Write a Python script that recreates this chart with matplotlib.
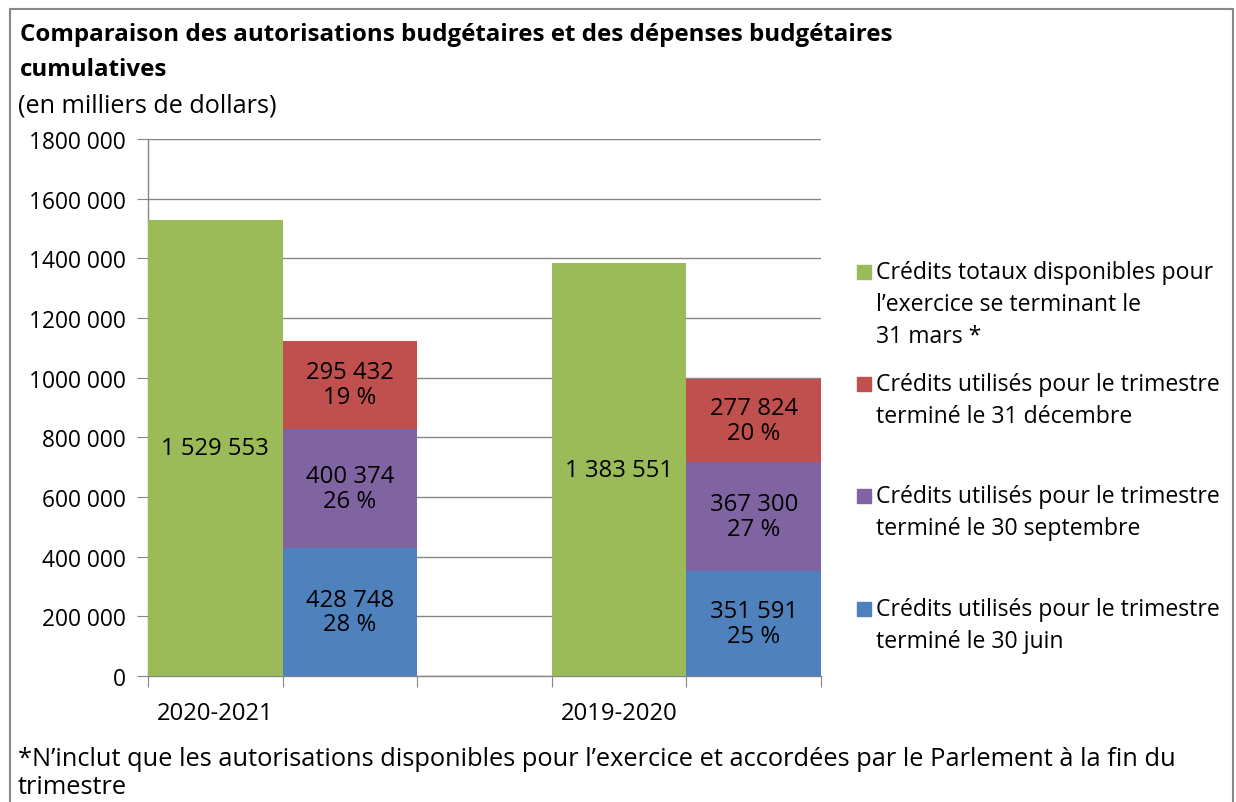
import matplotlib.pyplot as plt
from matplotlib.patches import Rectangle
from matplotlib.ticker import FuncFormatter

# data (milliers de dollars)
years = ['2020-2021', '2019-2020']
totals = [1529553, 1383551]
juin = [428748, 351591]
septembre = [400374, 367300]
decembre = [295432, 277824]
pct_juin = [28, 25]
pct_sept = [26, 27]
pct_dec = [19, 20]

legend_lines = [
    ['Crédits totaux disponibles pour', 'l\u2019exercice se terminant le', '31 mars *'],
    ['Crédits utilisés pour le trimestre', 'terminé le 31 décembre'],
    ['Crédits utilisés pour le trimestre', 'terminé le 30 septembre'],
    ['Crédits utilisés pour le trimestre', 'terminé le 30 juin'],
]
title_lines = ['Comparaison des autorisations budgétaires et des dépenses budgétaires',
               'cumulatives']
subtitle = '(en milliers de dollars)'
footnote = ['*N\u2019inclut que les autorisations disponibles pour l\u2019exercice et accordées par le Parlement à la fin du',
            'trimestre']

GREEN, RED, PURPLE, BLUE = '#9BBB59', '#C0504D', '#8064A2', '#4F81BD'
GRID = '#868686'

plt.rcParams['font.family'] = ['Open Sans', 'DejaVu Sans']

W, H = 1236, 803
fig = plt.figure(figsize=(W / 100, H / 100), dpi=100)

def fx(px):
    return px / W

def fy(py):
    return 1 - py / H

ax = fig.add_axes([fx(148), fy(677), fx(821 - 148), (677 - 140) / H])

def fmt(v):
    return f'{v:,}'.replace(',', ' ')

x_tot = [0.5, 3.5]
x_stk = [1.5, 4.5]
ax.bar(x_tot, totals, width=1, color=GREEN, zorder=3)
ax.bar(x_stk, juin, width=1, color=BLUE, zorder=3)
bottom2 = [a for a in juin]
ax.bar(x_stk, septembre, width=1, bottom=bottom2, color=PURPLE, zorder=3)
bottom3 = [a + b for a, b in zip(juin, septembre)]
ax.bar(x_stk, decembre, width=1, bottom=bottom3, color=RED, zorder=3)

# labels
for i in range(2):
    ax.text(x_tot[i], totals[i] / 2, fmt(totals[i]), ha='center', va='center',
            fontsize=17.2, zorder=4)
    segs = [(0, juin[i], pct_juin[i]),
            (juin[i], septembre[i], pct_sept[i]),
            (bottom3[i], decembre[i], pct_dec[i])]
    for b, v, p in segs:
        ax.text(x_stk[i], b + v / 2, f'{fmt(v)}\n{p} %', ha='center', va='center',
                fontsize=17.2, linespacing=1.05, zorder=4)

ax.set_xlim(0, 5)
ax.set_ylim(0, 1800000)
ax.set_yticks(range(0, 1800001, 200000))
ax.yaxis.set_major_formatter(FuncFormatter(lambda v, p: '0' if v == 0 else f'{int(v) // 1000} 000'))
ax.grid(axis='y', color=GRID, linewidth=1, zorder=0)
ax.set_xticks([0, 1, 2, 3, 4, 5])
ax.set_xticklabels([])
ax.set_xticks(x_tot, minor=True)
ax.set_xticklabels(years, minor=True)
ax.tick_params(axis='x', which='minor', length=0, pad=18, labelsize=17.2)
ax.tick_params(axis='x', which='major', length=8, color=GRID, direction='out')
ax.tick_params(axis='y', length=8, color=GRID, labelsize=16.4, pad=8)
for s in ['top', 'right']:
    ax.spines[s].set_visible(False)
for s in ['left', 'bottom']:
    ax.spines[s].set_color(GRID)
    ax.spines[s].set_linewidth(1)

# titles
fig.text(fx(20), fy(35), title_lines[0], fontsize=17.4, fontweight='bold', va='center')
fig.text(fx(20), fy(70), title_lines[1], fontsize=17.4, fontweight='bold', va='center')
fig.text(fx(18), fy(106), subtitle, fontsize=18.2, va='center')

# legend
colors = [GREEN, RED, PURPLE, BLUE]
first_y = [273, 385, 497, 610]
for c, y0, lines in zip(colors, first_y, legend_lines):
    fig.patches.append(Rectangle((fx(857), fy(y0 + 7)), fx(14), 14 / H, color=c,
                                 transform=fig.transFigure, figure=fig))
    for k, line in enumerate(lines):
        fig.text(fx(876), fy(y0 + 32 * k), line, fontsize=16.6, va='center')

# footnote
fig.text(fx(18), fy(760), footnote[0], fontsize=18.3, va='center')
fig.text(fx(18), fy(788), footnote[1], fontsize=18.3, va='center')

# outer border
fig.patches.append(Rectangle((fx(10), -0.05), fx(1233 - 10), fy(10) + 0.05, fill=False,
                             edgecolor='#898989', linewidth=1.5,
                             transform=fig.transFigure, figure=fig))

fig.savefig('out.png', dpi=100)
